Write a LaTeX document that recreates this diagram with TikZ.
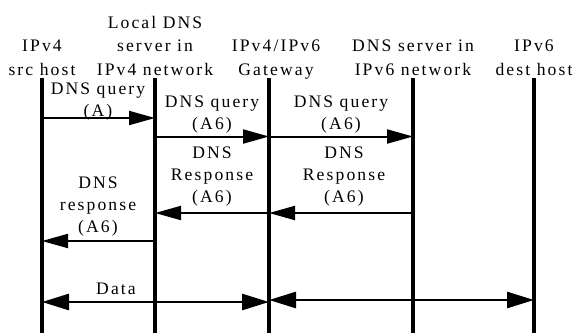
\documentclass[tikz,border=0pt]{standalone}
\usepackage{fontspec}
\setmainfont{Liberation Serif}[LetterSpace=12]
\usetikzlibrary{arrows.meta}
\tikzset{
  head/.style={font=\fontsize{17.6}{23.5}\selectfont, align=center, inner sep=0pt, anchor=base},
  lbl/.style={font=\fontsize{17.6}{22}\selectfont, align=center, inner sep=0pt, anchor=base},
  life/.style={line width=3.2pt},
  msg/.style={line width=2pt, -{Triangle[length=26pt,width=14pt]}},
  dat/.style={line width=2.7pt, {Triangle[length=27pt,width=16pt]}-{Triangle[length=27pt,width=16pt]}},
}
\begin{document}
\begin{tikzpicture}[x=1pt,y=-1pt]
\useasboundingbox (0,0) rectangle (576,333);

% lifelines
\coordinate (src) at (42,78);  \coordinate (src-b) at (42,333);
\coordinate (loc) at (155,78); \coordinate (loc-b) at (155,333);
\coordinate (gw) at (269,78);  \coordinate (gw-b) at (269,333);
\coordinate (dns6) at (413,78); \coordinate (dns6-b) at (413,333);
\coordinate (dst) at (534,78); \coordinate (dst-b) at (534,333);

\foreach \h in {src,loc,gw,dns6,dst}
  \draw[life] (\h) -- (\h-b);

\node[head] (src-h) at (42,75) {IPv4\\src host};
\node[head] (loc-h) at (155,75) {Local DNS\\server in\\IPv4 network};
\node[head] (gw-h) at (276,75) {IPv4/IPv6\\Gateway};
\node[head] (dns6-h) at (413,75) {DNS server in\\IPv6 network};
\node[head] (dst-h) at (534,75) {IPv6\\dest host};

% message levels
\coordinate (q1) at (0,118);
\coordinate (q2) at (0,136.5);
\coordinate (r1) at (0,213);
\coordinate (r2) at (0,241);
\coordinate (d1) at (0,302);
\coordinate (d2) at (0,300);

\draw[msg] (src |- q1) -- (loc |- q1);
\draw[msg] (loc |- q2) -- (gw |- q2);
\draw[msg] (gw |- q2) -- (dns6 |- q2);
\draw[msg] (dns6 |- r1) -- (gw |- r1);
\draw[msg] (gw |- r1) -- (loc |- r1);
\draw[msg] (loc |- r2) -- (src |- r2);
\draw[dat] (src |- d1) -- (gw |- d1);
\draw[dat] (gw |- d2) -- (dst |- d2);

\node[lbl] (q1-l) at (98,116.5) {DNS query\\(A)};
\node[lbl] (q2-l) at (212,129) {DNS query\\(A6)};
\node[lbl] (q3-l) at (341,129) {DNS query\\(A6)};
\node[lbl] (r1-l) at (344,202) {DNS\\Response\\(A6)};
\node[lbl] (r2-l) at (212,202) {DNS\\Response\\(A6)};
\node[lbl] (r3-l) at (98,232) {DNS\\response\\(A6)};
\node[lbl] (d1-l) at (116,294) {Data};
\end{tikzpicture}
\end{document}
